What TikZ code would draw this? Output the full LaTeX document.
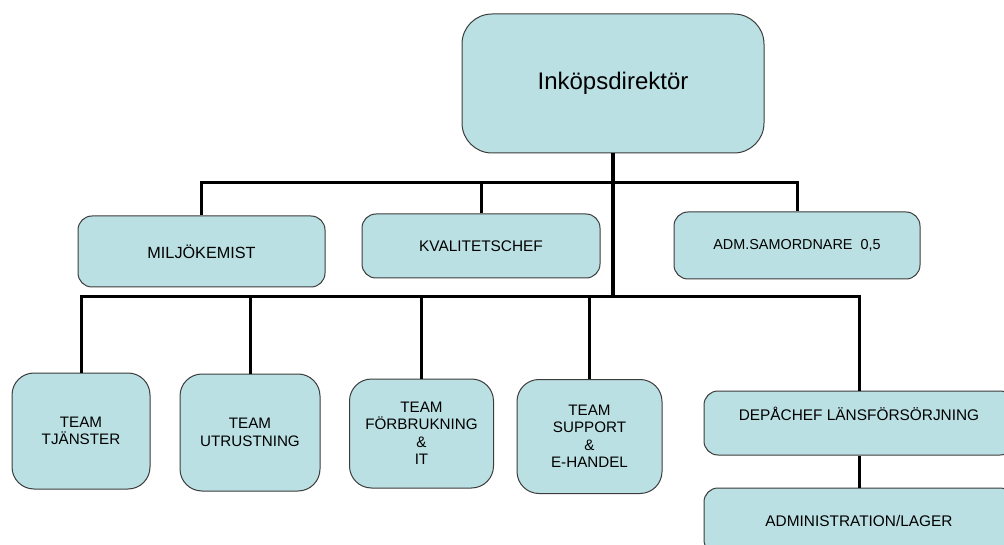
\documentclass[tikz,border=0pt]{standalone}
\usepackage{fontspec}
\setmainfont{Liberation Sans}
\usetikzlibrary{positioning}

\definecolor{boxfill}{RGB}{187,224,227}
\definecolor{boxline}{RGB}{60,60,60}

\begin{document}
\begin{tikzpicture}[
    x=1pt, y=-1pt,
    every node/.style={align=center, inner sep=0pt, fill=boxfill, draw=boxline, line width=1pt},
    chief/.style={minimum width=302pt, minimum height=139pt, rounded corners=30pt, font=\fontsize{24}{28}\selectfont},
    unit/.style={minimum height=67pt, rounded corners=14pt, font=\fontsize{15.4}{18}\selectfont},
    team/.style={minimum width=142pt, rounded corners=22pt, font=\fontsize{15.2}{17.5}\selectfont},
    bus/.style={line width=3pt},
    trunk/.style={line width=4.5pt}
]
\useasboundingbox (0,0) rectangle (1004,545);
\clip (0,0) rectangle (1004,545);

% Top level
\node[chief] (DIR) at (613,83.5) {Inköpsdirektör};

% Staff row
\node[unit, minimum width=247pt, minimum height=71pt, font=\fontsize{16.2}{19}\selectfont] (MIL) at (201.5,251.5) {MILJÖKEMIST};
\node[unit, minimum width=238pt, minimum height=64pt] (KVA) at (481,246) {KVALITETSCHEF};
\node[unit, minimum width=246pt, font=\fontsize{14.4}{17}\selectfont] (ADM) at (797,245.5) {ADM.SAMORDNARE\ \ 0,5};

% Teams
\node[team, minimum width=138pt, minimum height=116pt] (TJA) at (81,431) {TEAM\\TJÄNSTER};
\node[team, minimum width=140pt, minimum height=117pt] (UTR) at (250,432.5) {TEAM\\UTRUSTNING};
\node[team, minimum width=144pt, minimum height=109pt] (FOR) at (421.5,433.5) {TEAM\\FÖRBRUKNING\\\&\\IT};
\node[team, minimum width=145pt, minimum height=114pt] (SUP) at (589.5,436.5) {TEAM\\SUPPORT\\\&\\E-HANDEL};

% Depot
\node[unit, minimum width=310pt, minimum height=64pt] (DEP) at (859,423) {DEPÅCHEF LÄNSFÖRSÖRJNING\\\mbox{}};
\node[unit, minimum width=310pt, minimum height=66pt, below=32pt of DEP] (LAG) {ADMINISTRATION/LAGER};

% Connectors
\coordinate (UP) at (613,183);
\coordinate (LOW) at (613,297);
\draw[trunk] (DIR.south) -- (LOW);
\draw[bus] (MIL.north) |- (UP) -| (ADM.north);
\draw[bus] (KVA.north) -- (KVA.north |- UP);
\draw[bus] (TJA.north) |- (LOW) -| (DEP.north);
\draw[bus] (UTR.north) -- (UTR.north |- LOW);
\draw[bus] (FOR.north) -- (FOR.north |- LOW);
\draw[bus] (SUP.north) -- (SUP.north |- LOW);
\draw[bus] (DEP.south) -- (LAG.north);

\end{tikzpicture}
\end{document}
